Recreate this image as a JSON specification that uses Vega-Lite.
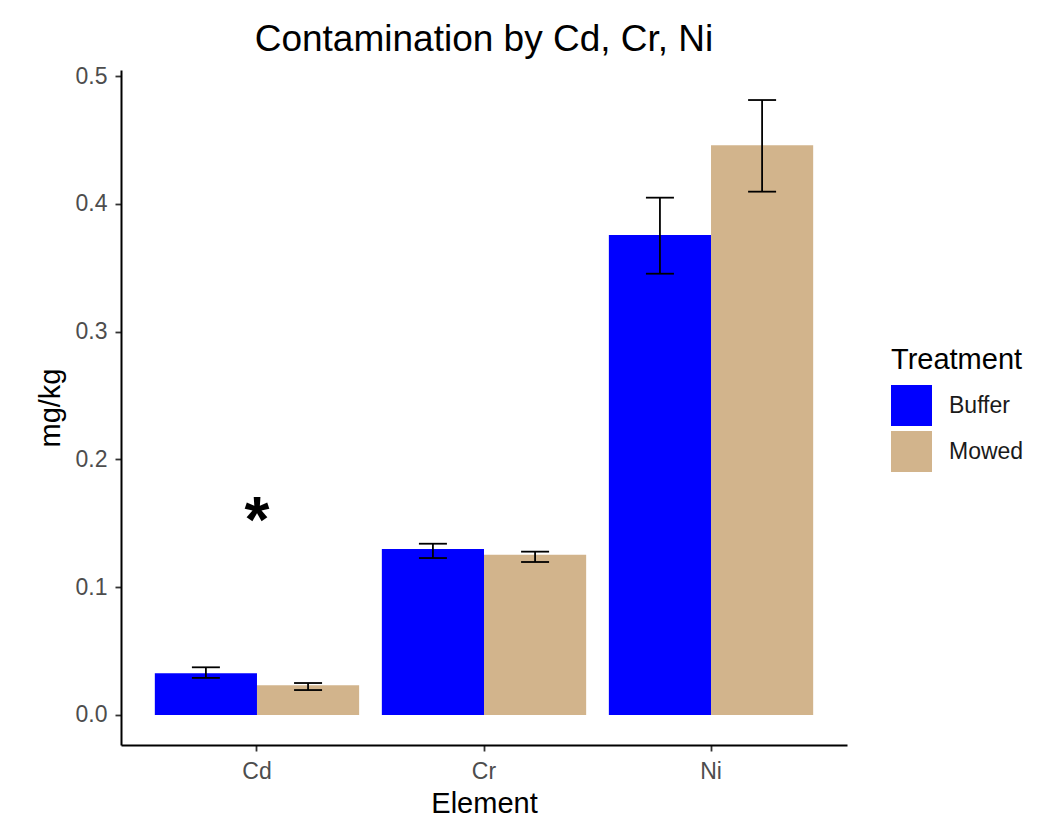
{
  "$schema": "https://vega.github.io/schema/vega-lite/v6.json",
  "width": 726,
  "height": 675,
  "autosize": {"type": "none"},
  "padding": {"left": 121, "top": 70, "right": 199, "bottom": 87},
  "background": "white",
  "config": {"view": {"stroke": null}, "font": "Liberation Sans"},
  "title": {"text": "Contamination by Cd, Cr, Ni", "fontSize": 37, "fontWeight": "normal", "color": "black", "anchor": "middle", "offset": 6, "font": "Liberation Sans"},
  "datasets": {
    "bars": [
      {"Element": "Cd", "Treatment": "Buffer", "mean": 0.0327, "lower": 0.0290, "upper": 0.0373},
      {"Element": "Cd", "Treatment": "Mowed", "mean": 0.0232, "lower": 0.0195, "upper": 0.0250},
      {"Element": "Cr", "Treatment": "Buffer", "mean": 0.1299, "lower": 0.1228, "upper": 0.1340},
      {"Element": "Cr", "Treatment": "Mowed", "mean": 0.1254, "lower": 0.1197, "upper": 0.1278},
      {"Element": "Ni", "Treatment": "Buffer", "mean": 0.3756, "lower": 0.3453, "upper": 0.4048},
      {"Element": "Ni", "Treatment": "Mowed", "mean": 0.4458, "lower": 0.4095, "upper": 0.4812}
    ],
    "notes": [{"Element": "Cd", "label": "*", "y": 0.15}]
  },
  "layer": [
    {
      "data": {"name": "bars"},
      "mark": {"type": "bar"},
      "encoding": {
        "x": {
          "field": "Element", "type": "nominal", "title": "Element",
          "scale": {"paddingInner": 0.1, "paddingOuter": 0.149},
          "axis": {"labelAngle": 0, "domainColor": "black", "domainWidth": 2, "tickColor": "#333333", "tickSize": 6, "tickWidth": 1.8, "labelColor": "#4d4d4d", "labelFontSize": 23, "labelPadding": 9, "titleFontSize": 29, "titleColor": "black", "titleFontWeight": "normal", "titlePadding": 6, "grid": false}
        },
        "xOffset": {"field": "Treatment", "type": "nominal", "scale": {"paddingInner": 0, "paddingOuter": 0}},
        "y": {
          "field": "mean", "type": "quantitative", "title": "mg/kg",
          "scale": {"domain": [-0.0235, 0.5047], "nice": false, "zero": false},
          "axis": {"values": [0, 0.1, 0.2, 0.3, 0.4, 0.5], "format": ".1f", "domainColor": "black", "domainWidth": 2, "tickColor": "#333333", "tickSize": 6, "tickWidth": 1.8, "labelColor": "#4d4d4d", "labelFontSize": 23, "labelPadding": 8, "titleFontSize": 29, "titleColor": "black", "titleFontWeight": "normal", "titlePadding": 10, "grid": false}
        },
        "y2": {"datum": 0},
        "color": {
          "field": "Treatment", "type": "nominal",
          "scale": {"domain": ["Buffer", "Mowed"], "range": ["#0000FF", "#D2B48C"]},
          "legend": {"title": "Treatment", "orient": "none", "legendX": 770, "legendY": 276, "titleFontSize": 29, "titleFontWeight": "normal", "titleColor": "black", "labelFontSize": 23, "labelColor": "#1a1a1a", "symbolType": "square", "symbolSize": 1681, "symbolStrokeWidth": 0, "symbolOpacity": 1, "rowPadding": 5, "labelOffset": 17, "titlePadding": 10}
        }
      }
    },
    {
      "data": {"name": "bars"},
      "mark": {"type": "rule", "color": "black", "strokeWidth": 1.8},
      "encoding": {
        "x": {"field": "Element", "type": "nominal"},
        "xOffset": {"field": "Treatment", "type": "nominal"},
        "y": {"field": "lower", "type": "quantitative"},
        "y2": {"field": "upper"}
      }
    },
    {
      "data": {"name": "bars"},
      "mark": {"type": "tick", "color": "black", "thickness": 1.8, "size": 28, "orient": "horizontal", "opacity": 1},
      "encoding": {
        "x": {"field": "Element", "type": "nominal"},
        "xOffset": {"field": "Treatment", "type": "nominal"},
        "y": {"field": "upper", "type": "quantitative"}
      }
    },
    {
      "data": {"name": "bars"},
      "mark": {"type": "tick", "color": "black", "thickness": 1.8, "size": 28, "orient": "horizontal", "opacity": 1},
      "encoding": {
        "x": {"field": "Element", "type": "nominal"},
        "xOffset": {"field": "Treatment", "type": "nominal"},
        "y": {"field": "lower", "type": "quantitative"}
      }
    },
    {
      "data": {"name": "notes"},
      "mark": {"type": "text", "fontSize": 64, "fontWeight": "bold", "baseline": "middle", "color": "black"},
      "encoding": {
        "x": {"field": "Element", "type": "nominal"},
        "y": {"field": "y", "type": "quantitative"},
        "text": {"field": "label"}
      }
    }
  ]
}
